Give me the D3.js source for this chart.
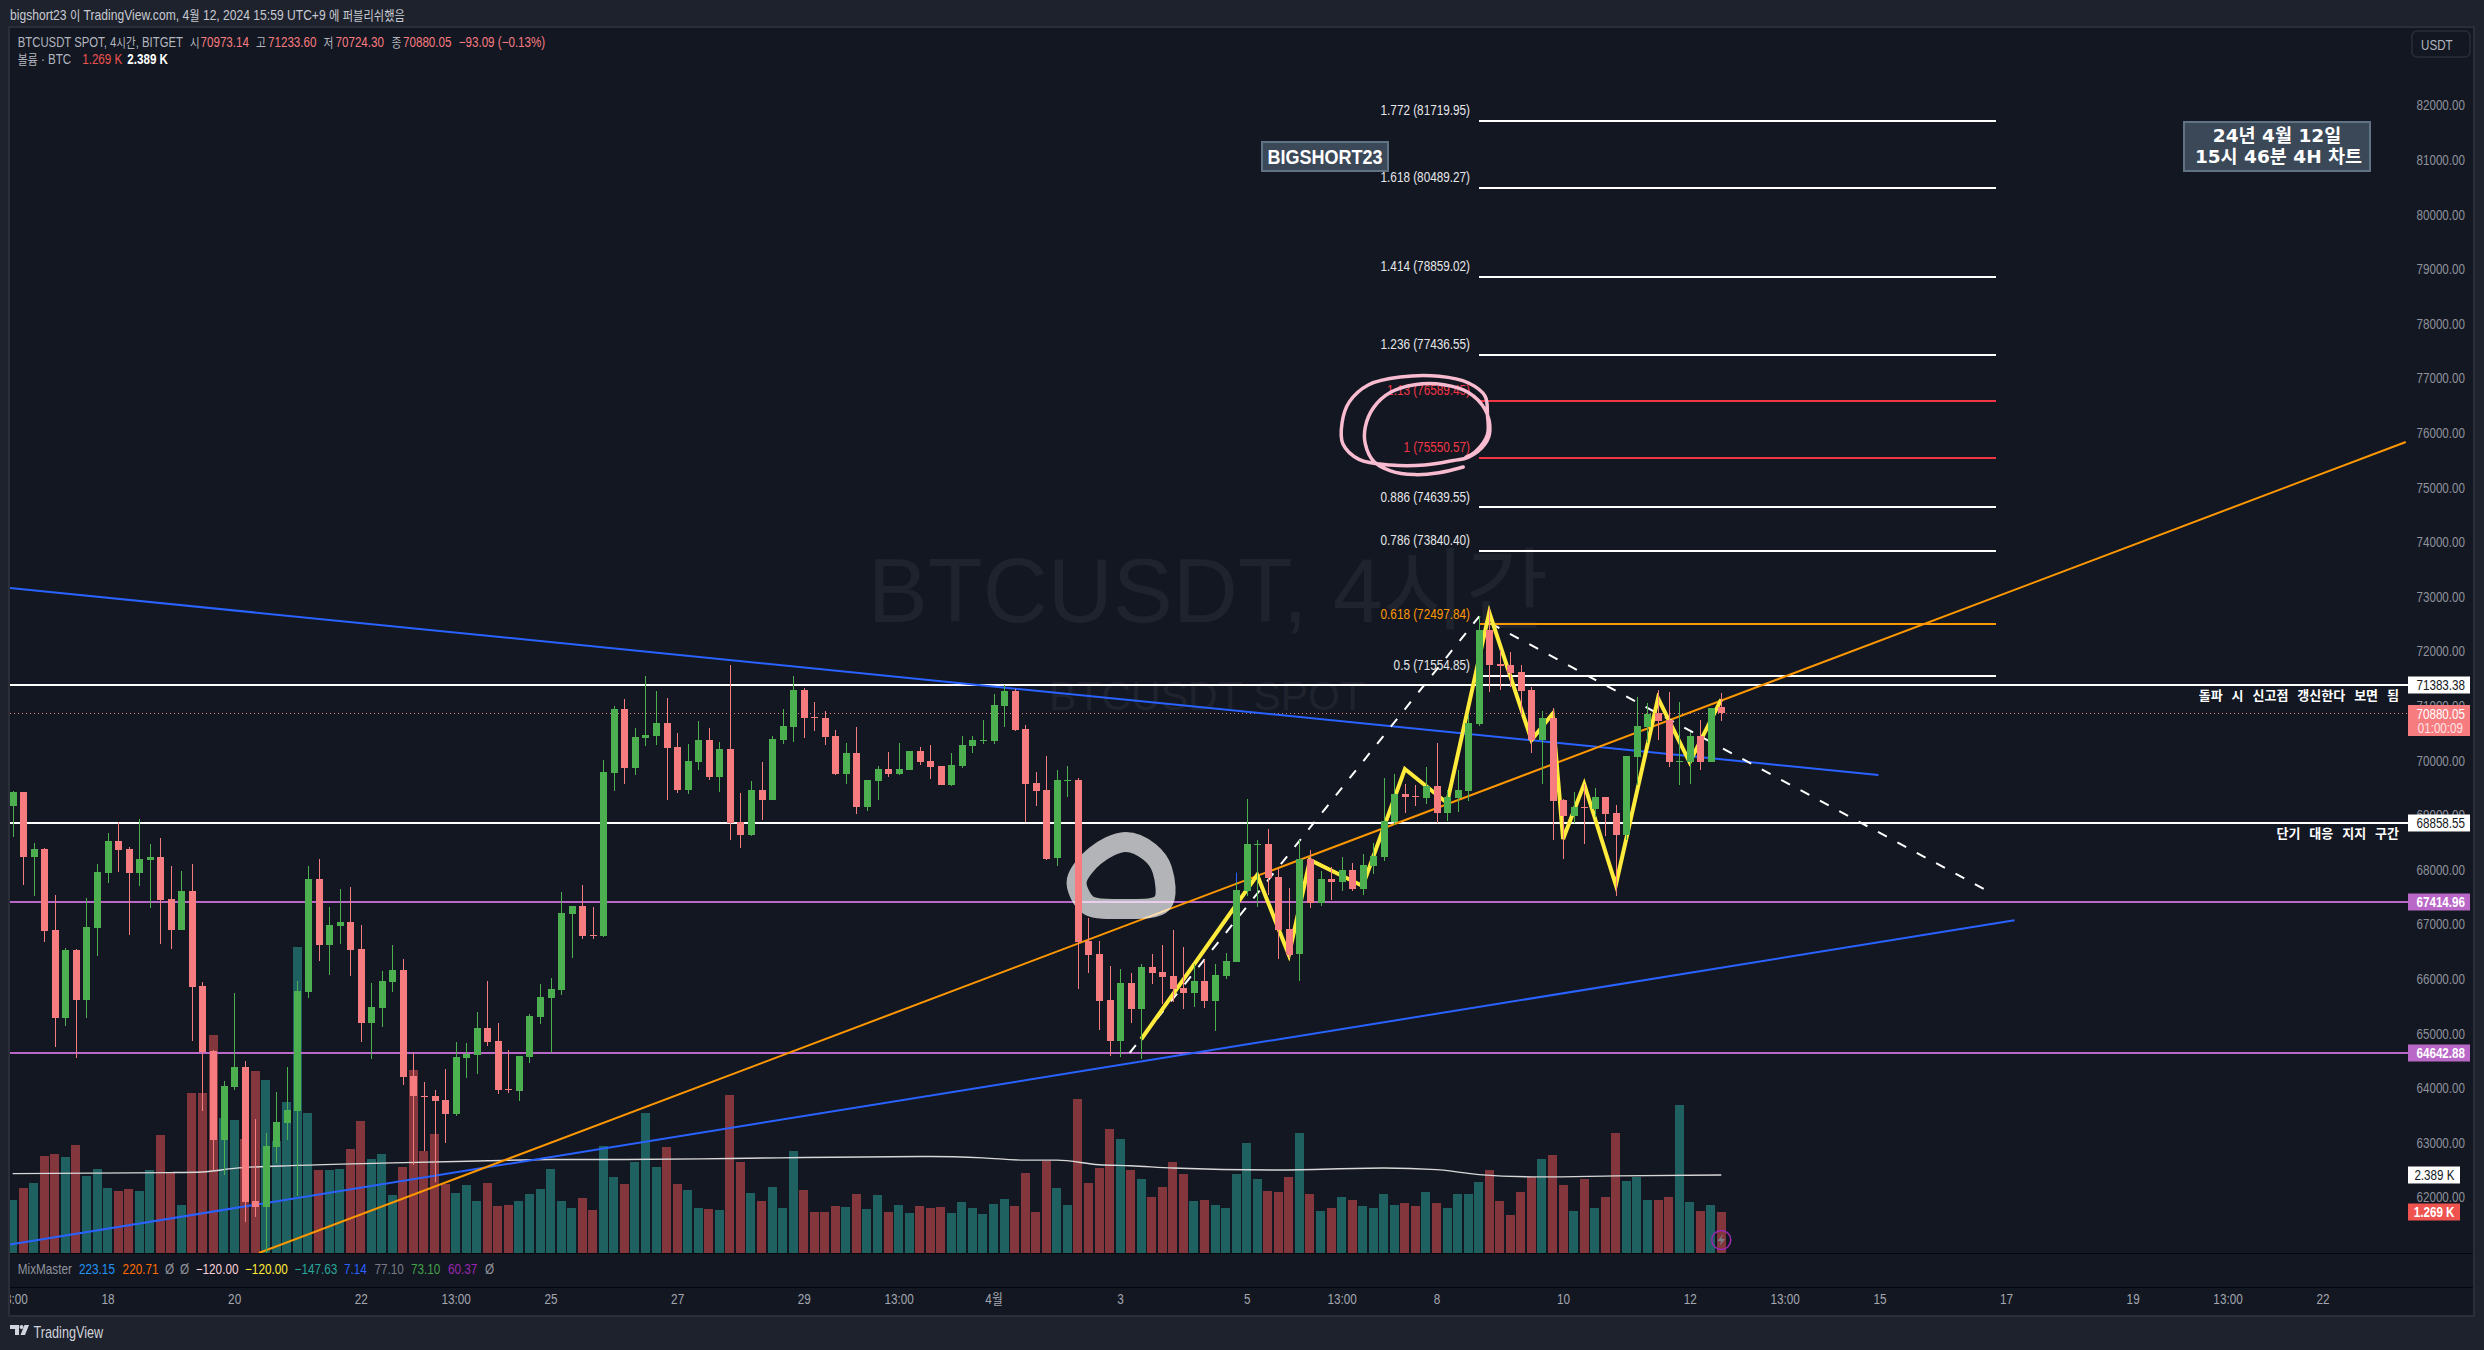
<!DOCTYPE html>
<html><head><meta charset="utf-8">
<script src="https://cdnjs.cloudflare.com/ajax/libs/d3/7.8.5/d3.min.js"></script>
<style>html,body{margin:0;padding:0;background:#1e222d;overflow:hidden}svg{display:block}
text{font-family:"Liberation Sans","Noto Sans CJK KR",sans-serif}</style></head>
<body><svg id="c" width="2484" height="1350"></svg>
<script>
const opens=[69167,69423,68240,68376,66893,65283,66530,65611,66929,67934,68525,68376,67934,68176,68233,67464,66893,67606,65867,64677,63046,64015,64385,61927,61820,62917,63359,63580,65761,67827,66616,66965,67043,66544,65190,65461,65939,66160,64221,63865,63851,63780,63523,64549,64606,65098,64863,63979,63943,64570,65297,65647,65796,67186,67335,66801,66787,69772,70941,69858,70414,70449,70685,70243,69459,69972,70371,69694,70207,68875,68632,69459,69274,70371,70613,71290,70791,70777,70449,69751,70136,69145,69623,69844,69751,69822,70171,69986,69901,69552,69901,70264,70357,70357,70998,71269,70578,69587,69459,68212,69623,69644,66694,66452,65616,64865,65927,65451,66220,66128,66055,65835,65744,65964,65597,66055,66312,67612,68461,68473,67868,66916,66458,68198,67392,67832,67777,67997,67649,68070,68234,68869,69388,69351,69315,69534,69040,69315,69443,70670,72392,71769,71751,71622,71293,70377,70780,69278,68985,69150,69113,69333,69040,68637,70065,70615,70865,70743,69980,69974,70450,69974,70973.14];
const highs=[69452,69423,68490,68397,67535,66566,66544,67492,68098,68668,68882,68411,68939,68468,68589,68062,67970,68098,65953,64692,64129,65739,64492,63430,63174,63929,64385,65967,68076,68205,67314,67642,67677,66986,65924,66145,66616,66359,64656,64107,63965,64350,64841,64827,65390,65967,65190,64699,64585,65354,65903,66010,67599,67335,67720,67314,70008,70998,71126,70592,71547,71269,71141,70499,70300,70720,70592,70335,71746,69402,69623,69972,70442,70941,71547,71326,71069,70905,70556,70321,70613,69644,69901,70157,70321,70171,70243,70285,69901,70136,70449,70449,70742,71219,71383,71305,70649,69787,70079,69822,69901,69680,67114,66694,66238,66177,66110,66275,66458,66623,66898,66586,66275,66348,66275,66476,67783,69297,68546,68748,68027,67667,68546,68363,67978,68045,68235,68125,68290,68491,69675,69754,69571,69553,69882,70322,69461,69828,70835,72648,72794,72025,71989,71751,71341,70908,70963,69296,69424,69571,69492,69333,69186,70084,71164,71055,71293,71256,71073,70523,70743,70963,71233.60];
const lows=[68597,67720,67513,66673,64749,65133,64556,65283,66416,67756,67955,66801,67699,67300,66637,66544,66893,64863,63580,62504,62411,63965,61542,61635,60972,62625,63046,62019,65647,66323,66067,66637,66053,64841,64528,65119,65761,64057,62589,62846,62276,62989,63487,64186,64257,64770,63893,63908,63765,64457,65169,64642,65703,66381,66730,66730,66765,69445,69573,69730,70271,70285,69274,69402,69388,69822,69644,69423,68547,68397,68618,68910,69274,70300,70335,70414,70535,70285,69730,69566,69017,69074,69274,69694,69730,69822,69915,69658,69552,69530,69858,70136,70300,70300,70613,70535,68875,69167,68176,68062,69331,65811,66103,65062,64590,64578,65194,64529,65909,65542,65585,65451,65487,65469,65048,66000,66312,67520,67319,67539,66367,66385,65964,67301,67337,67447,67612,67612,67539,67923,68161,68820,69040,69168,69205,68857,68893,69058,69260,70633,71256,71293,71341,70835,70139,69571,68545,68197,68863,68478,68973,68619,67520,68545,69553,70316,70377,69882,69553,69571,69827,69974,70724.30];
const closes=[69423,68240,68376,66872,65283,66530,65611,66950,67955,68525,68361,67934,68190,68233,67442,66893,67606,65846,64656,63046,64036,64385,61912,61820,62939,63373,63594,65775,67827,66616,66986,67043,66530,65190,65483,65960,66160,64200,63851,63858,63758,63523,64570,64620,65098,64841,63965,63965,64585,65319,65668,65810,67207,67335,66787,66787,69787,70941,69858,70428,70464,70685,70228,69459,69986,70371,69694,70207,68860,68632,69459,69274,70392,70628,71290,70777,70777,70428,69751,70136,69145,69644,69844,69751,69844,70171,69972,69879,69552,69915,70285,70371,70371,71012,71269,70556,69566,69438,68205,69644,69644,66673,66437,65590,64865,65927,65451,66220,66110,66037,65817,65744,65964,65597,66074,66330,67630,68473,68473,67850,66898,66440,68198,67392,67832,67783,67997,67649,68088,68253,68893,69388,69333,69339,69534,69040,69333,69461,70688,72392,71751,71738,71604,71274,70377,70780,69260,68985,69150,69137,69333,69022,68637,70084,70633,70853,70725,69974,69992,70450,69974,70963,70880.05];
const volumes=[1.63,1.99,2.15,2.97,3.02,2.93,3.30,2.36,2.57,1.99,1.90,1.96,1.90,2.54,3.61,2.48,1.47,4.89,4.89,6.65,4.13,4.07,3.49,5.56,5.28,3.43,4.61,9.34,4.28,2.54,2.54,2.57,3.18,4.03,2.87,3.02,1.78,2.63,5.59,3.12,3.64,2.11,1.84,2.08,1.59,2.15,1.45,1.47,1.59,1.80,1.96,2.57,1.59,1.38,1.68,1.32,3.27,2.33,2.11,2.79,4.28,2.63,3.24,2.11,1.93,1.38,1.35,1.32,4.83,2.79,1.84,1.59,2.02,1.38,3.12,1.93,1.26,1.26,1.45,1.41,1.80,1.35,1.78,1.26,1.47,1.23,1.45,1.38,1.41,1.23,1.57,1.38,1.20,1.51,1.66,1.45,2.44,1.26,2.81,1.99,1.47,4.71,2.15,2.60,3.80,3.48,2.53,2.28,1.71,2.01,2.77,2.43,1.58,1.64,1.46,1.39,2.43,3.35,2.28,1.91,1.86,2.34,3.66,1.80,1.30,1.39,1.73,1.64,1.43,1.37,1.82,1.48,1.52,1.43,1.86,1.52,1.39,1.82,1.82,2.16,2.53,1.58,1.16,1.86,2.32,2.89,3.01,2.07,1.28,2.28,1.39,1.71,3.66,2.19,2.34,1.64,1.61,1.71,4.53,1.55,1.28,1.46,1.269];
const volMaBars=[0,15,18,21,27,35,45,51,58,68,75,87,92,96,99,103,106,110,120,130,135,139,145,152,162];
const volMaVals=[2.43,2.46,2.48,2.59,2.68,2.75,2.82,2.86,2.86,2.89,2.92,2.95,2.91,2.84,2.84,2.70,2.67,2.60,2.54,2.60,2.55,2.40,2.33,2.36,2.389];

const priceTicks=[82000,81000,80000,79000,78000,77000,76000,75000,74000,73000,72000,71000,70000,69000,68000,67000,66000,65000,64000,63000,62000];
const timeTickBars=[0,9,21,33,42,51,63,75,84,93,105,117,126,135,147,159,168,177,189,201,210,219];
const timeTickLabels=["13:00","18","20","22","13:00","25","27","29","13:00","4월","3","5","13:00","8","10","12","13:00","15","17","19","13:00","22"];

const fibRatios=["1.772","1.618","1.414","1.236","1.13","1","0.886","0.786","0.618","0.5"];
const fibPrices=[81719.95,80489.27,78859.02,77436.55,76589.45,75550.57,74639.55,73840.40,72497.84,71554.85];
const fibColors=["#ffffff","#ffffff","#ffffff","#ffffff","#f23645","#f23645","#ffffff","#ffffff","#ff9800","#ffffff"];
const fibBars=[139,188];

const levelPrices=[71383.38,68858.55,67414.96,64642.88];
const levelColors=["#ffffff","#ffffff","#ba68c8","#ba68c8"];
const levelWidths=[2.5,2.5,2.5,2];
const lastPrice=70880.05;

const blueUpperBars=[-0.25,176.9], blueUpperPrices=[73161,69736];
const blueLowerBars=[-0.25,189.8], blueLowerPrices=[61139,67075];
const orangeBars=[23.35,226.9], orangePrices=[60982,75835];
const yellowBars=[107,118,121,123,128,132,136,140,144,146,147,149,152,156,159,162];
const yellowPrices=[64896,67905,66440,68180,67703,69846,69223,72716,70377,70857,68564,69571,67722,71141,69969,71123];
const dashBars=[105.9,139,187.7], dashPrices=[64645,72630,67566];
const pinkBars=[137.53,135.23,132.93,130.64,129.03,128.25,128.25,129.03,130.64,132.93,135.69,137.99,139.6,140.06,139.6,137.99,136.61,133.85,130.64,127.65,126.13,126.04,126.73,128.57,131.56,135.23,137.99,139.6,139.83,139.83,138.68,137.76];
const pinkPrices=[75378,75273,75238,75308,75483,75799,76114,76465,76745,76885,76885,76745,76430,76044,75799,75553,75497,75413,75413,75518,75799,76184,76570,76885,77025,77039,76920,76675,76325,75974,75658,75553];
const blobBars=[100.9,102.6,105.5,107.8,109,109,105,102.1,101.2];
const blobPrices=[67813,68253,68509,68326,67997,67392,67283,67338,67540];

const svg=d3.select("#c");
const x=d3.scaleLinear().domain([0,162]).range([12.65,1721.3]);
const y=d3.scaleLinear().domain([62000,82000]).range([1197.4,105.4]);
const v=d3.scaleLinear().domain([0,10]).range([1253.3,925.3]);
const BG="#131722",PANEL="#1e222d",EDGE="#2a2e39",UP="#4caf50",DN="#f77c80";
const idx=d3.range(opens.length);
const fmt2=d=>d.toFixed(2);

svg.append("rect").attr("width",2484).attr("height",1350).attr("fill",PANEL);
svg.append("rect").attr("x",9).attr("y",27).attr("width",2465).attr("height",1289).attr("fill",BG).attr("stroke",EDGE).attr("stroke-width",2);

const defs=svg.append("defs");
defs.append("clipPath").attr("id","pane").append("rect").attr("x",10).attr("y",28).attr("width",2398).attr("height",1225);
defs.append("clipPath").attr("id","tx").append("rect").attr("x",10).attr("y",1288).attr("width",2463).attr("height",27);

function T(g,xx,yy,s,fill,size,opt={}){
  const sq=opt.sq||(opt.f?1:0.83);
  const t=g.append("text").attr("transform",`translate(${xx},${yy}) scale(${sq},1)`).attr("dy","0.36em").attr("fill",fill)
    .attr("font-size",size).attr("font-weight",opt.w||400).attr("text-anchor",opt.a||"start")
    .attr("word-spacing",opt.ws||0).style("font-family",opt.f||null);
  if(opt.f){t.text(s);return t;}
  s.split(/([\uAC00-\uD7A3]+)/).filter(p=>p).forEach(p=>{
    const ts=t.append("tspan").text(p);
    if(/[\uAC00-\uD7A3]/.test(p)) ts.attr("font-size",size*0.93).style("font-family",'"Noto Sans CJK KR"');
  });
  return t;
}
const SM=14;
// header
const hd=svg.append("g");
T(hd,10,15,"bigshort23 이 TradingView.com, 4월 12, 2024 15:59 UTC+9 에 퍼블리쉬했음","#c8cad1",SM,{sq:.865});
const GR="#b2b5be";
T(hd,17.8,41.5,"BTCUSDT SPOT, 4시간, BITGET",GR,SM,{sq:.81});
[["시",189.8,"70973.14",200.5],["고",256,"71233.60",268],["저",323.4,"70724.30",335.5],["종",391.5,"70880.05",403]].forEach(d=>{
  T(hd,d[1],41.5,d[0],GR,SM);T(hd,d[3],41.5,d[2],DN,SM);
});
T(hd,458.7,41.5,"−93.09 (−0.13%)",DN,SM);
T(hd,17.8,59,"볼륨 · BTC",GR,SM);
T(hd,82.2,59,"1.269 K","#ef5350",SM);
T(hd,127.3,59,"2.389 K","#ffffff",SM,{w:700});

// watermark
const wm=svg.append("g").attr("clip-path","url(#pane)");
T(wm,1208,590,"BTCUSDT, 4시간","#1f232e",90,{a:"middle",f:'"Liberation Sans","Noto Sans CJK KR"'});
T(wm,1207,695,"BTCUSDT SPOT","#1f232e",41,{a:"middle",f:'"Liberation Sans"'});

const pane=svg.append("g").attr("clip-path","url(#pane)");
// volume
pane.append("g").selectAll("rect").data(idx).join("rect")
  .attr("x",i=>Math.round(x(i)-4.5)).attr("width",9)
  .attr("y",i=>Math.round(v(volumes[i]))).attr("height",i=>1253-Math.round(v(volumes[i])))
  .attr("fill",i=>closes[i]>=opens[i]?"#1f6060":"#83363b").attr("shape-rendering","crispEdges");
pane.append("path").attr("d",d3.line().x(d=>x(d[0])).y(d=>v(d[1])).curve(d3.curveMonotoneX)(d3.zip(volMaBars,volMaVals)))
  .attr("fill","none").attr("stroke","#d8d8d8").attr("stroke-width",1.4);

const seg=(b,p)=>d3.line().x(d=>x(d[0])).y(d=>y(d[1]))(d3.zip(b,p));
// levels
pane.append("g").selectAll("line").data(levelPrices).join("line")
  .attr("x1",10).attr("x2",2408).attr("y1",d=>Math.round(y(d))).attr("y2",d=>Math.round(y(d)))
  .attr("stroke",(d,i)=>levelColors[i]).attr("stroke-width",(d,i)=>levelWidths[i]).attr("shape-rendering","crispEdges");
pane.append("line").attr("x1",10).attr("x2",2408).attr("y1",Math.round(y(lastPrice))+.5).attr("y2",Math.round(y(lastPrice))+.5)
  .attr("stroke",DN).attr("stroke-width",1).attr("stroke-dasharray","1 3");
// fib
pane.append("g").selectAll("line").data(fibPrices).join("line")
  .attr("x1",x(fibBars[0])).attr("x2",x(fibBars[1])).attr("y1",d=>Math.round(y(d))).attr("y2",d=>Math.round(y(d)))
  .attr("stroke",(d,i)=>fibColors[i]).attr("stroke-width",2).attr("shape-rendering","crispEdges");
fibPrices.forEach((p,i)=>T(pane,1470,y(p)-10.5,`${fibRatios[i]} (${fmt2(p)})`,fibColors[i]=="#ffffff"?"#e6e7ea":fibColors[i],14,{a:"end",sq:.84}));
// trend lines
pane.append("path").attr("d",seg(blueUpperBars,blueUpperPrices)).attr("stroke","#2962ff").attr("stroke-width",2).attr("fill","none");
pane.append("path").attr("d",seg(blueLowerBars,blueLowerPrices)).attr("stroke","#2962ff").attr("stroke-width",2).attr("fill","none");
pane.append("path").attr("d",seg(orangeBars,orangePrices)).attr("stroke","#ff9800").attr("stroke-width",2).attr("fill","none");
pane.append("path").attr("d",seg(dashBars,dashPrices)).attr("stroke","#ffffff").attr("stroke-width",2).attr("stroke-dasharray","10 12").attr("fill","none");
pane.append("path").attr("d",d3.line().x(d=>x(d[0])).y(d=>y(d[1])).curve(d3.curveCatmullRomClosed)(d3.zip(blobBars,blobPrices)))
  .attr("fill","none").attr("stroke","#ffffff").attr("stroke-opacity",.68).attr("stroke-width",20).attr("stroke-linejoin","round");
pane.append("path").attr("d",d3.line().x(d=>x(d[0])).y(d=>y(d[1])).curve(d3.curveCatmullRom)(d3.zip(pinkBars,pinkPrices)))
  .attr("fill","none").attr("stroke","#f8bbd0").attr("stroke-width",3.5).attr("stroke-linecap","round");
pane.append("path").attr("d",seg(yellowBars,yellowPrices)).attr("stroke","#ffeb3b").attr("stroke-width",4).attr("fill","none").attr("stroke-linejoin","miter");
pane.append("line").attr("x1",Math.round(x(116))+.5).attr("x2",Math.round(x(116))+.5).attr("y1",y(67948)).attr("y2",y(67630)).attr("stroke","#2962ff").attr("stroke-width",1);

// candles
const cg=pane.append("g").attr("shape-rendering","crispEdges");
cg.selectAll("line").data(idx).join("line")
  .attr("x1",i=>Math.round(x(i))+.5).attr("x2",i=>Math.round(x(i))+.5)
  .attr("y1",i=>y(highs[i])).attr("y2",i=>y(lows[i]))
  .attr("stroke",i=>closes[i]>=opens[i]?UP:DN).attr("stroke-width",1);
cg.selectAll("rect").data(idx).join("rect")
  .attr("x",i=>Math.round(x(i))-3).attr("width",7)
  .attr("y",i=>Math.round(y(Math.max(opens[i],closes[i]))))
  .attr("height",i=>Math.max(1,Math.round(y(Math.min(opens[i],closes[i])))-Math.round(y(Math.max(opens[i],closes[i])))))
  .attr("fill",i=>closes[i]>=opens[i]?UP:DN);

// text notes
function box(xx,yy,w,h){
  svg.append("rect").attr("x",xx).attr("y",yy).attr("width",w).attr("height",h).attr("fill","#3a4858").attr("stroke","#5f7385").attr("stroke-width",2);
}
box(1262,142,126,29);
T(svg,1325,157,"BIGSHORT23","#ffffff",20,{a:"middle",w:700,sq:.9});
box(2184,122,186,49);
T(svg,2277,135.5,"24년 4월 12일","#ffffff",18.5,{a:"middle",w:700,f:'"DejaVu Sans","Noto Sans CJK KR"'});
T(svg,2278.5,156,"15시 46분 4H 차트","#ffffff",18.5,{a:"middle",w:700,f:'"DejaVu Sans","Noto Sans CJK KR"'});
T(svg,2399,695,"돌파 시 신고점 갱신한다 보면 됨","#ffffff",13,{a:"end",w:700,ws:6,f:'"Noto Sans CJK KR"'});
T(svg,2399,833,"단기 대응 지지 구간","#ffffff",13,{a:"end",w:700,ws:6,f:'"Noto Sans CJK KR"'});

// lightning
const lx=x(162),ly=1240;
svg.append("circle").attr("cx",lx).attr("cy",ly).attr("r",9.5).attr("fill","none").attr("stroke","#9c27b0").attr("stroke-width",1.5);
svg.append("path").attr("transform",`translate(${lx},${ly})`).attr("d","M2-6L-4 1H0L-2 6L4-1H0Z").attr("fill","#787b86");

// price axis
const pa=svg.append("g").attr("transform","translate(2465,0)")
  .call(d3.axisRight(y).tickValues(priceTicks).tickSize(0).tickPadding(0).tickFormat(fmt2));
pa.select(".domain").remove();
pa.selectAll("text").attr("x",0).attr("text-anchor","end").attr("fill","#8f929b").attr("font-size",14.2).attr("transform","scale(.82,1)").style("font-family",'"Liberation Sans"');

function tag(py,s,fill,tc,wt,w){
  const yy=Math.round(py);
  svg.append("rect").attr("x",2408).attr("y",yy-8.5).attr("width",w||62).attr("height",17).attr("fill",fill);
  T(svg,w?2408+w-5.5:2465,yy,s,tc,14.2,{a:"end",w:wt||400,sq:.82});
}
tag(y(71383.38),"71383.38","#ffffff","#131722");
tag(y(68858.55),"68858.55","#ffffff","#131722");
tag(y(67414.96),"67414.96","#ba68c8","#ffffff",700);
tag(y(64642.88),"64642.88","#ba68c8","#ffffff",700);
svg.append("rect").attr("x",2408).attr("y",705).attr("width",62).attr("height",31).attr("fill",DN);
T(svg,2465,714,"70880.05","#ffffff",14.2,{a:"end",sq:.82});
T(svg,2463,728,"01:00:09","#ffe3e4",14.2,{a:"end",sq:.82});
tag(v(2.389),"2.389 K","#ffffff","#131722",400,52);
tag(v(1.269),"1.269 K","#ef5350","#ffffff",700,52);

// USDT
svg.append("rect").attr("x",2412).attr("y",31).attr("width",58).attr("height",26).attr("rx",5).attr("fill","none").attr("stroke",EDGE).attr("stroke-width",1.5);
T(svg,2421,44.5,"USDT",GR,14);

// separators
[1253,1287].forEach(yy=>svg.append("line").attr("x1",10).attr("x2",2473).attr("y1",yy+.5).attr("y2",yy+.5).attr("stroke","#05070c").attr("stroke-width",1));

// mixmaster
[["MixMaster",17.8,"#8f929b"],["223.15",79,"#2196f3"],["220.71",122.6,"#ff6d00"],["Ø",165,"#8f929b"],["Ø",180,"#8f929b"],["−120.00",195.7,"#f8d0d8"],["−120.00",245,"#ffeb3b"],["−147.63",294.6,"#26a69a"],["7.14",344,"#2962ff"],["77.10",374.5,"#787b86"],["73.10",411,"#43a047"],["60.37",448,"#9c27b0"],["Ø",485,"#8f929b"]]
 .forEach(d=>T(svg,d[1],1269,d[0],d[2],14,{sq:.84}));

// time axis
const ta=svg.append("g").attr("clip-path","url(#tx)").append("g").attr("transform","translate(0,1294)")
  .call(d3.axisBottom(x).tickValues(timeTickBars).tickSize(0).tickPadding(0).tickFormat(d=>timeTickLabels[timeTickBars.indexOf(d)]));
ta.select(".domain").remove();
ta.selectAll("text").attr("fill","#a4a7b0").attr("font-size",14).attr("dy","0.71em").attr("transform","scale(.84,1)").style("font-family",'"Liberation Sans","Noto Sans CJK KR"');

// logo
const lg=svg.append("g").attr("transform","translate(10,1325)").attr("fill","#d1d4dc");
lg.append("path").attr("d","M0 0H9V10H5V4H0Z");
lg.append("circle").attr("cx",11.5).attr("cy",2).attr("r",2);
lg.append("path").attr("d","M14.5 0H19L15 10H10.5Z");
T(svg,33.6,1332,"TradingView","#d1d4dc",16,{sq:.79});
</script></body></html>
